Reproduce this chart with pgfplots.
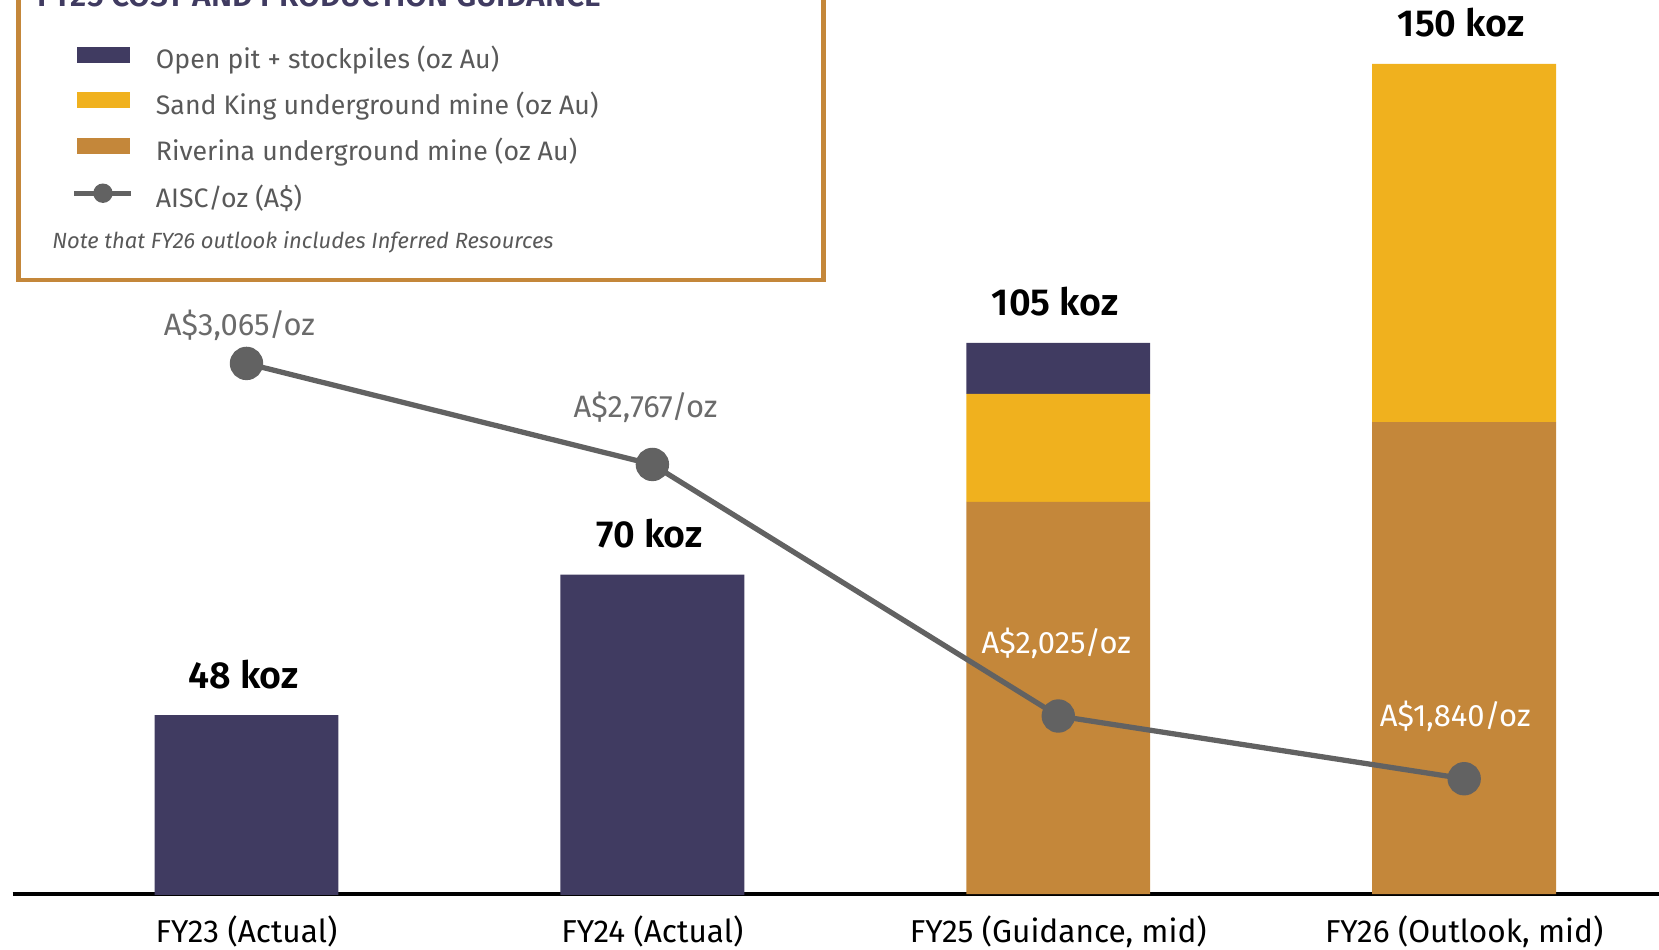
\documentclass[border=0pt]{standalone}
\usepackage{fontspec}
\setmainfont{Fira Sans}[BoldFont={Fira Sans SemiBold}]
\usepackage{pgfplots}
\usepackage{pgfplotstable}
\pgfplotsset{compat=1.18}

\definecolor{navy}{HTML}{403B61}
\definecolor{gold}{HTML}{F0B11E}
\definecolor{ochre}{HTML}{C4873A}
\definecolor{aisc}{HTML}{626262}
\definecolor{lblgray}{HTML}{6B6B6B}
\definecolor{leggray}{HTML}{595959}

% koz per source, AISC in A$/oz
\pgfplotstableread{
x riv  sk   op  aisc
0 0    0    48  3065
1 0    0    70  2767
2 81.4 16.9 8.0 2025
3 93.9 56.1 0   1840
}\prod

\begin{document}
\begin{tikzpicture}
\useasboundingbox (0,0) rectangle (16.59,-9.50);

% production bars
\begin{axis}[
    at={(0.127cm,-8.94cm)}, anchor=south west,
    scale only axis, width=16.463cm, height=8.94cm,
    ybar stacked, bar width=0.453,
    xmin=-0.576, xmax=3.48, ymin=20, ymax=160,
    axis x line=bottom, axis y line=none,
    axis line style={-, black, line width=0.9pt},
    xtick={0,1,2,3},
    xticklabels={{FY23 (Actual)},{FY24 (Actual)},{FY25 (Guidance, mid)},{FY26 (Outlook, mid)}},
    major tick length=0pt,
    xticklabel style={anchor=base, yshift=-0.483cm, font=\fontsize{9}{10}\selectfont, text=black},
]
\addplot[fill=ochre, draw=none] table[x=x, y=riv]{\prod};
\addplot[fill=gold, draw=none] table[x=x, y=sk]{\prod};
\addplot[fill=navy, draw=none] table[x=x, y=op]{\prod};

\tikzset{tot/.style={anchor=base, inner sep=0pt, yshift=0.27cm, xshift=-0.03cm, font=\fontsize{10.7}{12}\selectfont\bfseries}}
\node[tot] at (axis cs:0,48) {48 koz};
\node[tot] at (axis cs:1,70) {70 koz};
\node[tot] at (axis cs:2,106.3) {105 koz};
\node[tot] at (axis cs:3,150) {150 koz};
\end{axis}

% AISC line
\begin{axis}[
    at={(0.127cm,-8.94cm)}, anchor=south west,
    scale only axis, width=16.463cm, height=8.94cm,
    xmin=-0.576, xmax=3.48, ymin=1500, ymax=4137,
    hide axis,
    legend cell align=left,
    legend style={draw=none, fill=none, at={(0.03602,0.94776)}, anchor=north west,
        inner sep=0pt, outer sep=0pt, row sep=0.174cm,
        font=\fontsize{7.6}{9}\selectfont, text=leggray,
        nodes={inner sep=0pt, text height=0.2cm, text depth=0.06cm},
        /tikz/every odd column/.append style={column sep=0.22cm}},
]
\addlegendimage{legend image code/.code={\fill[navy] (0cm,0cm) rectangle (0.52cm,0.145cm);}}
\addlegendentry{Open pit + stockpiles (oz Au)}
\addlegendimage{legend image code/.code={\fill[gold] (0cm,0cm) rectangle (0.52cm,0.145cm);}}
\addlegendentry{Sand King underground mine (oz Au)}
\addlegendimage{legend image code/.code={\fill[ochre] (0cm,0cm) rectangle (0.52cm,0.145cm);}}
\addlegendentry{Riverina underground mine (oz Au)}
\addlegendimage{legend image code/.code={\draw[aisc, line width=1.4pt] (-0.03cm,0.072cm) -- (0.54cm,0.072cm); \fill[aisc] (0.255cm,0.072cm) circle (0.09cm);}}
\addlegendentry{AISC/oz (A\$)}

\addplot[aisc, line width=1.5pt, mark=*, mark size=4pt,
    mark options={fill=aisc, draw=aisc}, forget plot] table[x=x, y=aisc]{\prod};

\tikzset{lbl/.style={anchor=base, inner sep=0pt, font=\fontsize{8.8}{10}\selectfont}}
\node[lbl, text=lblgray, xshift=-0.07cm, yshift=0.275cm] at (axis cs:0,3065) {A\$3,065/oz};
\node[lbl, text=lblgray, xshift=-0.068cm, yshift=0.465cm] at (axis cs:1,2767) {A\$2,767/oz};
\node[lbl, text=white, xshift=-0.02cm, yshift=0.63cm] at (axis cs:2,2025) {A\$2,025/oz};
\node[lbl, text=white, xshift=-0.09cm, yshift=0.52cm] at (axis cs:3,1840) {A\$1,840/oz};
\end{axis}

% legend frame, title and note
\draw[ochre, line width=1.4pt] (0.186cm,0.3cm) -- (0.186cm,-2.80cm) -- (8.235cm,-2.80cm) -- (8.235cm,0.3cm);
\node[anchor=base west, inner sep=0pt, text=navy, font=\fontsize{9}{10}\selectfont\bfseries] at (0.37cm,-0.07cm) {FY25 COST AND PRODUCTION GUIDANCE};
\node[anchor=base west, inner sep=0pt, text=leggray, font=\fontsize{6.25}{8}\selectfont\itshape] at (0.516cm,-2.483cm) {Note that FY26 outlook includes Inferred Resources};
\end{tikzpicture}
\end{document}
